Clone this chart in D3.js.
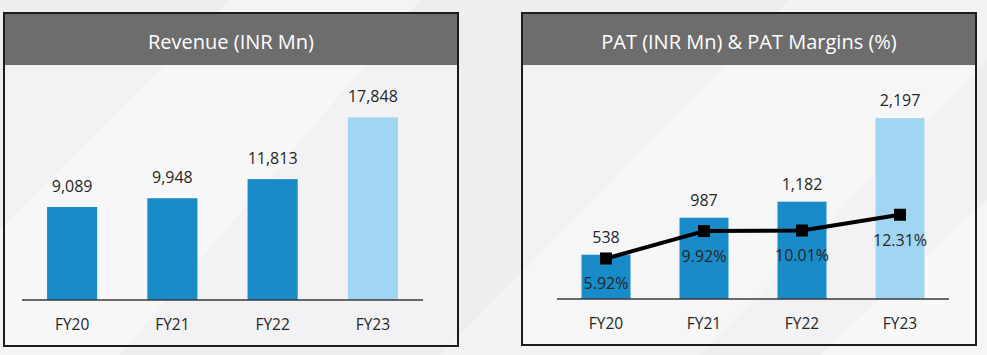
<!DOCTYPE html>
<html><head><meta charset="utf-8">
<script src="https://cdn.jsdelivr.net/npm/d3@7"></script>
<style>html,body{margin:0;padding:0;background:#eeeef0;}svg{display:block;}</style>
</head><body>
<svg id="c" width="987" height="355"></svg>
<script>
const categories = ["FY20","FY21","FY22","FY23"];
const revenue = [9089, 9948, 11813, 17848];
const pat = [538, 987, 1182, 2197];
const patMargin = [5.92, 9.92, 10.01, 12.31];
const highlightIdx = 3;
const titles = ["Revenue (INR Mn)", "PAT (INR Mn) & PAT Margins (%)"];

const svg = d3.select("#c");
const FONT = "'Open Sans', sans-serif";
const dark = "#1a8bc9", light = "#a1d6f2", txt = "#262626";

// background streaks
const bg = svg.append("g");
bg.append("rect").attr("width",987).attr("height",355).attr("fill","#eeeef0");
bg.append("path").attr("d","M0,230 L230,0 L420,0 L120,355 L0,355 Z").attr("fill","#ffffff").attr("opacity",0.35);
bg.append("path").attr("d","M440,355 L790,0 L987,0 L987,60 L700,355 Z").attr("fill","#ffffff").attr("opacity",0.3);
bg.append("path").attr("d","M820,355 L987,200 L987,355 Z").attr("fill","#ffffff").attr("opacity",0.45);

function panel(x0, x1, y0, y1, title){
  const g = svg.append("g");
  g.append("rect").attr("x",x0).attr("y",y0).attr("width",x1-x0).attr("height",y1-y0)
    .attr("fill","#ffffff").attr("opacity",0.25);
  g.append("rect").attr("x",x0).attr("y",y0).attr("width",x1-x0).attr("height",52).attr("fill","#6d6d6d");
  g.append("rect").attr("x",x0).attr("y",y0).attr("width",x1-x0).attr("height",y1-y0)
    .attr("fill","none").attr("stroke","#1c1c1c").attr("stroke-width",2);
  g.append("text").attr("x",(x0+x1)/2).attr("y",y0+28).attr("text-anchor","middle")
    .attr("dominant-baseline","central").attr("fill","#ffffff")
    .attr("font-family",FONT).attr("font-size",20).text(title);
}

panel(4, 458, 13, 346, titles[0]);
panel(522, 976, 13, 345, titles[1]);

function barChart(xr, base, vals, ymax, labelGap){
  const x = d3.scaleBand().domain(categories).range(xr).paddingInner(0.5).paddingOuter(0.25);
  const y = d3.scaleLinear().domain([0, ymax]).range([base, 80]);
  const g = svg.append("g");
  g.selectAll("rect.bar").data(categories).join("rect").attr("class","bar")
    .attr("x",d=>x(d)).attr("width",x.bandwidth())
    .attr("y",(d,i)=>y(vals[i])).attr("height",(d,i)=>base-y(vals[i]))
    .attr("fill",(d,i)=>i===highlightIdx?light:dark);
  g.append("line").attr("x1",xr[0]).attr("x2",xr[1]).attr("y1",base).attr("y2",base)
    .attr("stroke","#3a3a3a").attr("stroke-width",1.5);
  g.selectAll("text.val").data(categories).join("text").attr("class","val")
    .attr("x",d=>x(d)+x.bandwidth()/2).attr("y",(d,i)=>y(vals[i])-labelGap)
    .attr("text-anchor","middle").attr("dominant-baseline","central")
    .attr("font-family",FONT).attr("font-size",16).attr("fill",txt)
    .text((d,i)=>d3.format(",")(vals[i]));
  const ax = g.append("g").attr("transform",`translate(0,${base})`)
    .call(d3.axisBottom(x).tickSize(0).tickPadding(0));
  ax.select(".domain").remove();
  ax.selectAll("text").attr("y",24).attr("dy",null).attr("dominant-baseline","central")
    .attr("font-family",FONT).attr("font-size",15.5).attr("fill",txt);
  return {x,y,g};
}

barChart([22, 423], 300, revenue, 21500, 21);
const r = barChart([557, 949], 299, pat, 2660, 18);

// margin line
const y2 = d3.scaleLinear().domain([0, 32]).range([299, 80]);
const cx = d => r.x(d) + r.x.bandwidth()/2;
const line = d3.line().x((d,i)=>cx(categories[i])).y(d=>y2(d));
r.g.append("path").datum(patMargin).attr("d",line).attr("fill","none")
  .attr("stroke","#000").attr("stroke-width",4).attr("stroke-linejoin","round");
r.g.selectAll("rect.mk").data(patMargin).join("rect").attr("class","mk")
  .attr("x",(d,i)=>cx(categories[i])-6).attr("y",d=>y2(d)-6)
  .attr("width",12).attr("height",12).attr("fill","#000");
r.g.selectAll("text.pct").data(patMargin).join("text").attr("class","pct")
  .attr("x",(d,i)=>cx(categories[i])).attr("y",d=>y2(d)+25)
  .attr("text-anchor","middle").attr("dominant-baseline","central")
  .attr("font-family",FONT).attr("font-size",16).attr("fill",txt)
  .text(d=>d3.format(".2f")(d)+"%");
</script>
</body></html>
